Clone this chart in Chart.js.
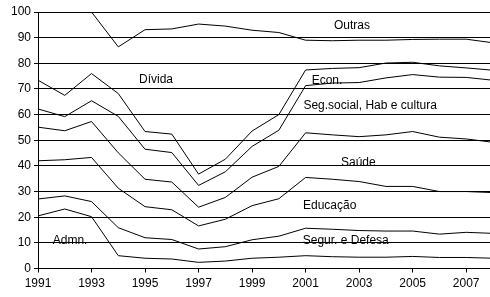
<!DOCTYPE html>
<html>
<head>
<meta charset="utf-8">
<script src="https://cdn.jsdelivr.net/npm/chart.js@4/dist/chart.umd.min.js"></script>
<style>
html,body{margin:0;padding:0;background:#fff;overflow:hidden;}
canvas{display:block;}
</style>
</head>
<body>
<canvas id="c" width="490" height="297"></canvas>
<script>
// Years (x) and cumulative upper boundaries of each stacked category (%)
const years = [1991,1992,1993,1994,1995,1996,1997,1998,1999,2000,2001,2002,2003,2004,2005,2006,2007,2008];
const admnTop      = [20.5,23.2,20.2,5.0,4.0,3.7,2.4,2.9,4.0,4.4,5.0,4.6,4.4,4.4,4.7,4.3,4.3,4.0];
const segurTop     = [27.1,28.3,26.1,15.9,12.0,11.3,7.6,8.5,11.2,12.6,15.7,15.3,14.8,14.6,14.6,13.4,14.1,13.7];
const educacaoTop  = [42.0,42.4,43.3,31.3,24.1,22.9,16.6,19.2,24.5,27.2,35.5,34.8,33.9,32.0,32.0,30.0,30.0,29.6];
const saudeTop     = [55.1,53.7,57.3,45.1,34.8,33.7,23.9,27.7,35.6,39.8,52.9,52.1,51.4,52.1,53.4,51.2,50.5,49.2];
const segSocialTop = [62.2,59.2,65.4,59.3,46.5,45.2,32.4,37.7,47.6,53.9,71.3,72.3,72.5,74.3,75.6,74.6,74.5,73.4];
const econTop      = [73.4,67.5,76.0,68.2,53.4,52.4,36.8,42.6,53.6,60.0,77.4,78.0,78.3,80.1,80.4,79.0,78.2,77.3];
const dividaTop    = [100,100,100,86.4,93.1,93.4,95.3,94.5,92.9,92.0,89.0,88.8,89.0,89.0,89.3,89.4,89.4,88.0];

// Tick labels
const xTickYears = [1991,1993,1995,1997,1999,2001,2003,2005,2007];
const yTickValues = [0,10,20,30,40,50,60,70,80,90,100];

// In-chart category labels (text, year position, value position of baseline)
const labelTexts  = ["Outras","Dívida","Econ.","Seg.social, Hab e cultura","Saúde","Educação","Segur. e Defesa","Admn."];
const labelYears  = [2002.73,1995.41,2001.8,2003.41,2002.97,2001.9,2002.5,1992.2];
const labelValues = [93.2,72.2,71.9,62.2,40.0,23.2,9.6,9.45];

const FONT = "'Liberation Sans', Arial, sans-serif";
const boundaries = [admnTop, segurTop, educacaoTop, saudeTop, segSocialTop, econTop, dividaTop];

const datasets = boundaries.map(arr => ({
  data: arr.map((v,i) => ({x: years[i], y: v})),
  borderColor: '#000',
  borderWidth: 1,
  pointRadius: 0,
  tension: 0,
  fill: false
}));

const textPlugin = {
  id: 'areaLabels',
  afterDatasetsDraw(chart) {
    const ctx = chart.ctx;
    const xs = chart.scales.x, ys = chart.scales.y;
    ctx.save();
    ctx.font = "12px " + FONT;
    ctx.fillStyle = '#000';
    ctx.textAlign = 'center';
    ctx.textBaseline = 'alphabetic';
    labelTexts.forEach((t,i) => {
      ctx.fillText(t, xs.getPixelForValue(labelYears[i]), ys.getPixelForValue(labelValues[i]));
    });
    ctx.restore();
  }
};

new Chart(document.getElementById('c'), {
  type: 'line',
  data: { datasets },
  plugins: [textPlugin],
  options: {
    responsive: false,
    animation: false,
    devicePixelRatio: 1,
    layout: { padding: { top: 12, right: 0, left: 0, bottom: 0 } },
    plugins: { legend: { display: false }, tooltip: { enabled: false } },
    scales: {
      x: {
        type: 'linear',
        min: 1991,
        max: 2007.89,
        afterBuildTicks: axis => { axis.ticks = xTickYears.map(v => ({value: v})); },
        afterFit: axis => { axis.height = 28.5; },
        grid: { drawOnChartArea: false, drawTicks: true, tickLength: 4, color: '#000' },
        border: { color: '#000', width: 1 },
        ticks: { color: '#000', font: { family: FONT, size: 12 }, padding: 4, maxRotation: 0, autoSkip: false, callback: v => String(v) }
      },
      y: {
        type: 'linear',
        min: 0,
        max: 100,
        afterBuildTicks: axis => { axis.ticks = yTickValues.map(v => ({value: v})); },
        afterFit: axis => { axis.width = 38; },
        grid: { color: '#000', lineWidth: 1, drawTicks: true, tickLength: 4 },
        border: { color: '#000', width: 1 },
        ticks: { color: '#000', font: { family: FONT, size: 12 }, padding: 3 }
      }
    }
  }
});
</script>
</body>
</html>
